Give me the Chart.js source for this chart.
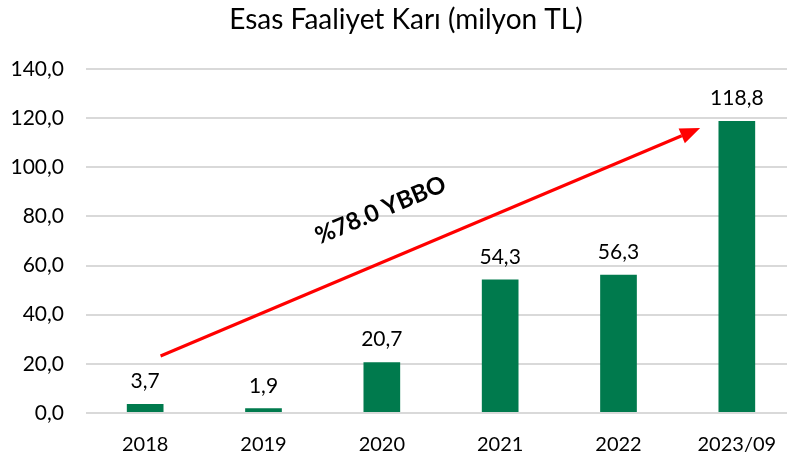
<!DOCTYPE html>
<html>
<head>
<meta charset="utf-8">
<script src="https://cdn.jsdelivr.net/npm/chart.js@4.4.1/dist/chart.umd.min.js"></script>
<style>
  html, body { margin: 0; padding: 0; background: #fff; overflow: hidden; }
  #wrap { width: 787px; height: 459px; overflow: hidden; }
  #box { width: 812px; height: 459px; }
</style>
</head>
<body>
<div id="wrap"><div id="box"><canvas id="karChart"></canvas></div></div>
<script>
const chartTitle = 'Esas Faaliyet Karı (milyon TL)';
const years = ['2018', '2019', '2020', '2021', '2022', '2023/09'];
const profit = [3.7, 1.9, 20.7, 54.3, 56.3, 118.8];
const growthLabel = '%78.0 YBBO';
// arrow ends in data units (category index, value)
const arrowFrom = [0.13, 23.2];
const arrowTo = [4.69, 116.0];
const labelAt = [1.99, 82.5];

const FONT = 'Lato, "Open Sans", sans-serif';
const fmt = v => v.toFixed(1).replace('.', ',');

// title drawn by hand so it can sit centred on the (cropped) canvas
const titlePlugin = {
    id: 'titlePlugin',
    afterDraw(chart) {
        const ctx = chart.ctx;
        ctx.save();
        ctx.font = '28px ' + FONT;
        ctx.fillStyle = '#000';
        ctx.textAlign = 'center';
        ctx.textBaseline = 'alphabetic';
        ctx.fillText(chartTitle, 406, 29);
        ctx.restore();
    }
};

// value labels above the bars
const barLabels = {
    id: 'barLabels',
    afterDatasetsDraw(chart) {
        const ctx = chart.ctx;
        const meta = chart.getDatasetMeta(0);
        ctx.save();
        ctx.font = '21px ' + FONT;
        ctx.fillStyle = '#000';
        ctx.textAlign = 'center';
        ctx.textBaseline = 'bottom';
        meta.data.forEach((bar, i) => {
            ctx.fillText(fmt(profit[i]), bar.x, bar.y - 12);
        });
        ctx.restore();
    }
};

// red trend arrow with rotated text
const trendArrow = {
    id: 'trendArrow',
    afterDatasetsDraw(chart) {
        const { ctx, scales: { x, y } } = chart;
        const x1 = x.getPixelForValue(arrowFrom[0]), y1 = y.getPixelForValue(arrowFrom[1]);
        const x2 = x.getPixelForValue(arrowTo[0]), y2 = y.getPixelForValue(arrowTo[1]);
        const ang = Math.atan2(y2 - y1, x2 - x1);
        const head = 20, half = 8;
        const bx = x2 - head * Math.cos(ang), by = y2 - head * Math.sin(ang);
        ctx.save();
        ctx.strokeStyle = '#ff0000';
        ctx.fillStyle = '#ff0000';
        ctx.lineWidth = 3;
        ctx.beginPath();
        ctx.moveTo(x1, y1);
        ctx.lineTo(bx, by);
        ctx.stroke();
        ctx.beginPath();
        ctx.moveTo(x2, y2);
        ctx.lineTo(bx + half * Math.sin(ang), by - half * Math.cos(ang));
        ctx.lineTo(bx - half * Math.sin(ang), by + half * Math.cos(ang));
        ctx.closePath();
        ctx.fill();

        ctx.translate(x.getPixelForValue(labelAt[0]), y.getPixelForValue(labelAt[1]));
        ctx.rotate(ang);
        ctx.font = 'bold 24px ' + FONT;
        ctx.fillStyle = '#000';
        ctx.textAlign = 'center';
        ctx.textBaseline = 'middle';
        ctx.fillText(growthLabel, 0, 0);
        ctx.restore();
    }
};

new Chart(document.getElementById('karChart'), {
    type: 'bar',
    data: {
        labels: years,
        datasets: [{
            data: profit,
            backgroundColor: '#007a4d',
            barPercentage: 0.62,
            categoryPercentage: 0.5
        }]
    },
    options: {
        responsive: true,
        maintainAspectRatio: false,
        animation: false,
        layout: { padding: { top: 69, right: 16, left: 0, bottom: 0 } },
        plugins: {
            legend: { display: false },
            tooltip: { enabled: false },
            title: { display: false }
        },
        scales: {
            x: {
                grid: { display: false, drawTicks: false },
                border: { display: false },
                ticks: { color: '#000', font: { family: FONT, size: 20 }, padding: 20 },
                afterFit(scale) { scale.height = 46; }
            },
            y: {
                min: 0,
                max: 140,
                ticks: {
                    stepSize: 20,
                    color: '#000',
                    padding: 22,
                    font: { family: FONT, size: 21 },
                    callback: v => fmt(v)
                },
                grid: { color: '#d9d9d9', lineWidth: 2, drawTicks: false },
                border: { display: false },
                afterFit(scale) { scale.width = 86; }
            }
        }
    },
    plugins: [barLabels, trendArrow, titlePlugin]
});
</script>
</body>
</html>
